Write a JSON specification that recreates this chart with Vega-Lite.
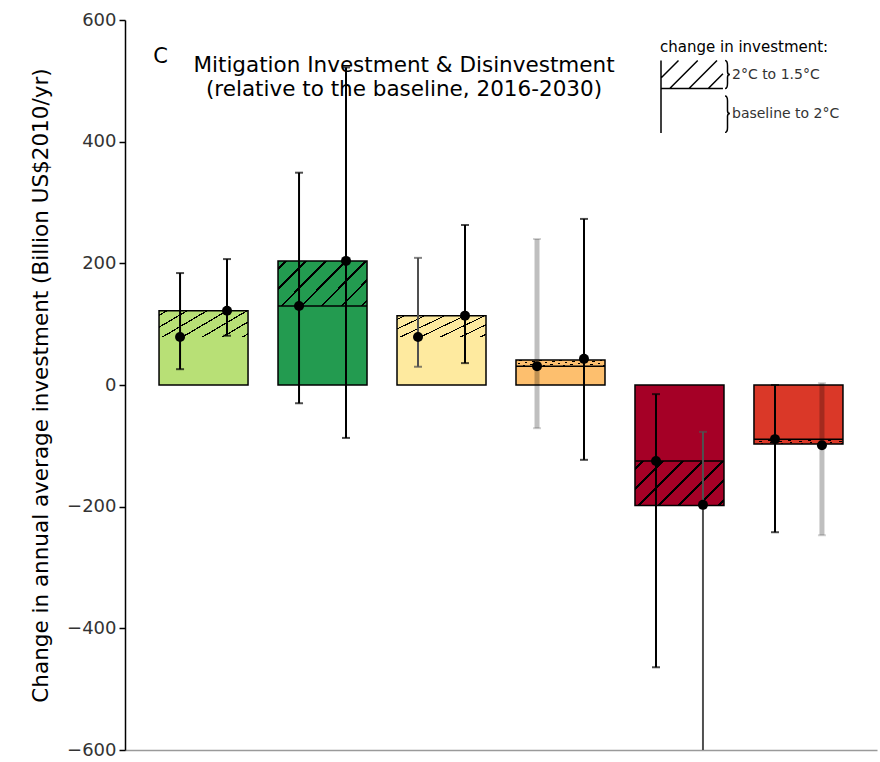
{
  "$schema": "https://vega.github.io/schema/vega-lite/v6.json",
  "width": 752,
  "height": 730,
  "autosize": {"type": "none"},
  "padding": {"left": 125, "top": 20, "right": 3, "bottom": 12},
  "background": "white",
  "config": {
    "font": "DejaVu Sans",
    "view": {"stroke": null}
  },
  "title": {
    "text": ["Mitigation Investment & Disinvestment", "(relative to the baseline, 2016-2030)"],
    "fontSize": 21.5,
    "fontWeight": "normal",
    "color": "black",
    "anchor": "middle",
    "dx": -97,
    "offset": -89,
    "lineHeight": 24
  },
  "datasets": {
    "bars": [
      {"cat": "Energy Efficiency", "base": 79, "total": 122},
      {"cat": "Renewables", "base": 130, "total": 204},
      {"cat": "Nuclear", "base": 79, "total": 114},
      {"cat": "CCS", "base": 31, "total": 41},
      {"cat": "Fossil Fuel Extraction", "base": -125, "total": -198},
      {"cat": "Fossil Power without CCS", "base": -89, "total": -97}
    ],
    "pts": [
      {"cat": "Energy Efficiency", "scen": "baseline to 2°C", "mean": 79, "lo": 26, "hi": 184, "agreement": "high"},
      {"cat": "Energy Efficiency", "scen": "2°C to 1.5°C", "mean": 122, "lo": 81, "hi": 207, "agreement": "high"},
      {"cat": "Renewables", "scen": "baseline to 2°C", "mean": 130, "lo": -30, "hi": 349, "agreement": "high"},
      {"cat": "Renewables", "scen": "2°C to 1.5°C", "mean": 204, "lo": -87, "hi": 522, "agreement": "high"},
      {"cat": "Nuclear", "scen": "baseline to 2°C", "mean": 79, "lo": 30, "hi": 209, "agreement": "medium"},
      {"cat": "Nuclear", "scen": "2°C to 1.5°C", "mean": 114, "lo": 36, "hi": 263, "agreement": "high"},
      {"cat": "CCS", "scen": "baseline to 2°C", "mean": 31, "lo": -71, "hi": 240, "agreement": "low"},
      {"cat": "CCS", "scen": "2°C to 1.5°C", "mean": 43, "lo": -123, "hi": 273, "agreement": "high"},
      {"cat": "Fossil Fuel Extraction", "scen": "baseline to 2°C", "mean": -125, "lo": -464, "hi": -15, "agreement": "high"},
      {"cat": "Fossil Fuel Extraction", "scen": "2°C to 1.5°C", "mean": -197, "lo": -615, "hi": -77, "agreement": "medium"},
      {"cat": "Fossil Power without CCS", "scen": "baseline to 2°C", "mean": -89, "lo": -242, "hi": 0, "agreement": "high"},
      {"cat": "Fossil Power without CCS", "scen": "2°C to 1.5°C", "mean": -99, "lo": -247, "hi": 3, "agreement": "low"}
    ],
    "legend": [
      {"seg": "2°C to 1.5°C"},
      {"seg": "baseline to 2°C"}
    ],
    "panel": [{"label": "C"}]
  },
  "encoding": {
    "x": {
      "field": "cat",
      "type": "nominal",
      "scale": {
        "domain": ["Energy Efficiency", "Renewables", "Nuclear", "CCS", "Fossil Fuel Extraction", "Fossil Power without CCS"],
        "paddingInner": 0.25,
        "paddingOuter": 0.285
      },
      "axis": {
        "orient": "bottom",
        "title": null,
        "labels": false,
        "ticks": false,
        "domainColor": "#9a9a9a",
        "domainWidth": 1.5
      }
    }
  },
  "layer": [
    {
      "data": {"name": "bars"},
      "mark": {"type": "bar", "stroke": "black", "strokeWidth": 1.5, "width": 89},
      "encoding": {
        "y": {
          "field": "total",
          "type": "quantitative",
          "scale": {"domain": [-600, 600], "nice": false, "zero": false},
          "axis": {
            "title": "Change in annual average investment (Billion US$2010/yr)",
            "titleFontSize": 21.5,
            "titleFontWeight": "normal",
            "titleColor": "black",
            "titlePadding": 14,
            "values": [-600, -400, -200, 0, 200, 400, 600],
            "labelFontSize": 18,
            "labelColor": "#333333",
            "labelPadding": 3,
            "tickSize": 6,
            "tickColor": "black",
            "tickWidth": 1.5,
            "domainColor": "black",
            "domainWidth": 1.5,
            "grid": false
          }
        },
        "y2": {"datum": 0},
        "fill": {
          "field": "cat",
          "type": "nominal",
          "scale": {
            "domain": ["Energy Efficiency", "Renewables", "Nuclear", "CCS", "Fossil Fuel Extraction", "Fossil Power without CCS"],
            "range": ["#b8e076", "#239b50", "#feea9f", "#fdbf6e", "#a50026", "#da3828"]
          },
          "legend": null
        }
      }
    },
    {
      "data": {"name": "bars"},
      "mark": {
        "type": "bar",
        "width": 89,
        "color": {
          "gradient": "linear",
          "x1": 0, "y1": 0, "x2": 1.2, "y2": 0.6,
          "stops": [
            {"offset": 0, "color": "rgba(0,0,0,0)"},
            {"offset": 0.05, "color": "rgba(0,0,0,0)"}, {"offset": 0.05, "color": "black"}, {"offset": 0.068, "color": "black"}, {"offset": 0.068, "color": "rgba(0,0,0,0)"},
            {"offset": 0.2, "color": "rgba(0,0,0,0)"}, {"offset": 0.2, "color": "black"}, {"offset": 0.218, "color": "black"}, {"offset": 0.218, "color": "rgba(0,0,0,0)"},
            {"offset": 0.35, "color": "rgba(0,0,0,0)"}, {"offset": 0.35, "color": "black"}, {"offset": 0.368, "color": "black"}, {"offset": 0.368, "color": "rgba(0,0,0,0)"},
            {"offset": 0.5, "color": "rgba(0,0,0,0)"}, {"offset": 0.5, "color": "black"}, {"offset": 0.518, "color": "black"}, {"offset": 0.518, "color": "rgba(0,0,0,0)"},
            {"offset": 0.65, "color": "rgba(0,0,0,0)"}, {"offset": 0.65, "color": "black"}, {"offset": 0.668, "color": "black"}, {"offset": 0.668, "color": "rgba(0,0,0,0)"},
            {"offset": 0.8, "color": "rgba(0,0,0,0)"}, {"offset": 0.8, "color": "black"}, {"offset": 0.818, "color": "black"}, {"offset": 0.818, "color": "rgba(0,0,0,0)"},
            {"offset": 0.95, "color": "rgba(0,0,0,0)"}, {"offset": 0.95, "color": "black"}, {"offset": 0.968, "color": "black"}, {"offset": 0.968, "color": "rgba(0,0,0,0)"},
            {"offset": 1, "color": "rgba(0,0,0,0)"}
          ]
        }
      },
      "encoding": {
        "y": {"field": "base", "type": "quantitative"},
        "y2": {"field": "total"}
      }
    },
    {
      "data": {"name": "bars"},
      "transform": [{"filter": "datum.cat != 'Energy Efficiency' && datum.cat != 'Nuclear'"}],
      "mark": {"type": "bar", "width": 89, "fill": null, "fillOpacity": 0, "stroke": "black", "strokeWidth": 1.5},
      "encoding": {
        "y": {"field": "base", "type": "quantitative"},
        "y2": {"field": "base"}
      }
    },
    {
      "mark": {"type": "rule", "color": "black", "strokeWidth": 1.5},
      "encoding": {"y": {"datum": 0}}
    },
    {
      "data": {"name": "pts"},
      "mark": {"type": "rule", "clip": true},
      "encoding": {
        "xOffset": {"field": "scen", "type": "nominal", "scale": {"type": "point", "padding": 0.45, "domain": ["baseline to 2°C", "2°C to 1.5°C"]}},
        "y": {"field": "lo", "type": "quantitative"},
        "y2": {"field": "hi"},
        "color": {"field": "agreement", "type": "nominal", "scale": {"domain": ["high", "medium", "low"], "range": ["#000000", "#505050", "rgba(0,0,0,0.25)"]}, "legend": null},
        "strokeWidth": {"condition": {"test": "datum.agreement == 'low'", "value": 5}, "value": 2}
      }
    },
    {
      "data": {"name": "pts"},
      "mark": {"type": "tick", "size": 8, "thickness": 2, "clip": true},
      "encoding": {
        "xOffset": {"field": "scen", "type": "nominal"},
        "y": {"field": "lo", "type": "quantitative"},
        "color": {"field": "agreement", "type": "nominal", "legend": null}
      }
    },
    {
      "data": {"name": "pts"},
      "mark": {"type": "tick", "size": 8, "thickness": 2, "clip": true},
      "encoding": {
        "xOffset": {"field": "scen", "type": "nominal"},
        "y": {"field": "hi", "type": "quantitative"},
        "color": {"field": "agreement", "type": "nominal", "legend": null}
      }
    },
    {
      "data": {"name": "pts"},
      "mark": {"type": "circle", "fill": "black", "size": 100, "opacity": 1},
      "encoding": {
        "xOffset": {"field": "scen", "type": "nominal"},
        "y": {"field": "mean", "type": "quantitative"}
      }
    },
    {
      "data": {"name": "panel"},
      "mark": {"type": "text", "fontSize": 21, "dx": -43, "align": "center", "baseline": "middle", "fill": "black"},
      "encoding": {
        "x": {"datum": "Energy Efficiency"},
        "y": {"datum": 540},
        "text": {"field": "label"}
      }
    },
    {
      "data": {"name": "legend"},
      "mark": {"type": "point", "opacity": 0, "filled": false},
      "encoding": {
        "shape": {
          "field": "seg",
          "type": "nominal",
          "scale": {
            "domain": ["2°C to 1.5°C", "baseline to 2°C"],
            "range": [
              "M-1,-0.4V0.557M-1,0.4H0.77M-1,0.1L-0.5,-0.4M-0.75,0.4L0.05,-0.4M-0.2,0.4L0.6,-0.4M0.35,0.4L0.77,-0.02M0.83,-0.4Q0.9,-0.4 0.9,-0.25V-0.08Q0.9,0 0.97,0Q0.9,0 0.9,0.08V0.25Q0.9,0.4 0.83,0.4",
              "M-1,-0.557V0.557M0.83,-0.5Q0.9,-0.5 0.9,-0.36V-0.08Q0.9,0 0.97,0Q0.9,0 0.9,0.08V0.4Q0.9,0.54 0.83,0.54"
            ]
          },
          "legend": {
            "orient": "none",
            "legendX": 535,
            "legendY": 20,
            "padding": 0,
            "title": "change in investment:",
            "titleFontSize": 15,
            "titleFontWeight": "normal",
            "titleColor": "black",
            "titlePadding": 0,
            "symbolSize": 4900,
            "clipHeight": 39,
            "symbolOpacity": 1,
            "symbolStrokeColor": "black",
            "symbolStrokeWidth": 1.5,
            "symbolFillColor": "transparent",
            "labelFontSize": 14,
            "labelColor": "#333333",
            "labelOffset": 0,
            "rowPadding": 0
          }
        }
      }
    }
  ]
}
